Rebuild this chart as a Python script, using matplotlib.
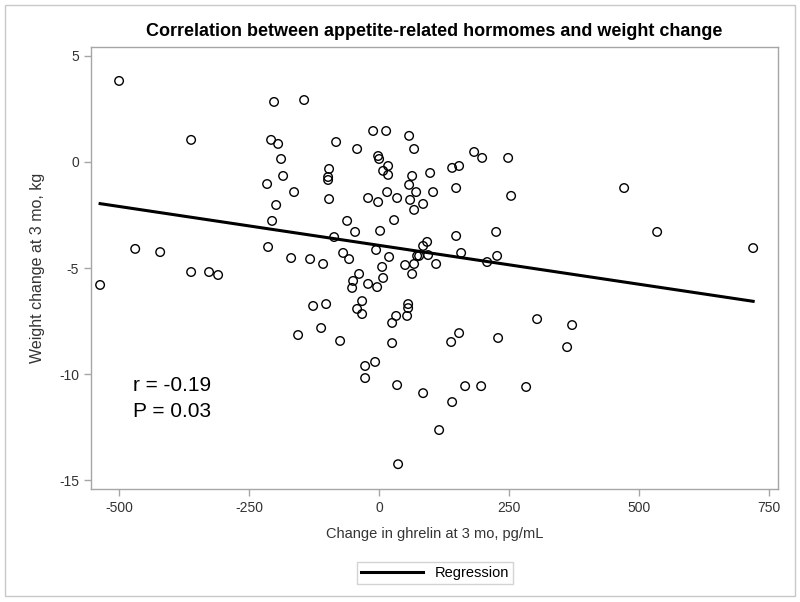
import numpy as np
import matplotlib
matplotlib.use("Agg")
import matplotlib.pyplot as plt
from matplotlib.patches import Rectangle
from matplotlib.lines import Line2D

plt.rcParams['font.family'] = ['Liberation Sans', 'DejaVu Sans']

title = "Correlation between appetite-related hormomes and weight change"
xlabel = "Change in ghrelin at 3 mo, pg/mL"
ylabel = "Weight change at 3 mo, kg"
xticks = [-500, -250, 0, 250, 500, 750]
yticks = [5, 0, -5, -10, -15]

ghrelin = [
    -536.5, -500, -469, -421, -361.5, -361.5, -327, -309.6,
    -202, -207.7, -194.2, -188.5, -184.6, -215.4, -163.5, -198, -205.8, -213.5, -169.2,
    -144.2, -132.7, -155.8, -126.9,
    -96.2, -98.1, -98.1, -96.2, -82.7, -42.3, -11.5, 13.5, 57.7, 67.3,
    -1.9, 0, 17.3, 7.7, 17.3, 63.5, 98.1, -21.2, -1.9, 15.4, 34.6, 57.7,
    71.2, 59.6, 84.6, 67.3, 103.8, -61.5, 28.8, -86.5, -46.2, 1.9,
    -69.2, -57.7, -5.8, 19.2, -107.7, -38.5, -50, -51.9, -21.2, -3.8,
    7.7, 5.8, 50, 67.3, 63.5, 73.1, 76.9, 84.6, 92.3, 94.2, 109.6,
    -101.9, -32.7, -42.3, -32.7, 55.8, 55.8, 32.7, 53.8, 25, -111.5,
    -75, 25, 138.5, 153.8, 228.8,
    -26.9, -7.7, -26.9, 34.6, 84.6, 140.4, 165.4, 196.2, 282.7, 115.4, 36.5,
    140.4, 153.8, 148.1, 182.7, 198.1, 248.1, 253.8, 148.1, 157.7, 207.7, 225, 226.9,
    303.8, 371.1, 361.5, 471.1, 534.6, 719.2,
]
weight = [
    -5.80, 3.82, -4.10, -4.25, 1.04, -5.19, -5.19, -5.33,
    2.83, 1.04, 0.85, 0.14, -0.66, -1.04, -1.42, -2.03, -2.78, -4.01, -4.53,
    2.92, -4.58, -8.16, -6.79,
    -0.33, -0.71, -0.85, -1.75, 0.94, 0.61, 1.46, 1.46, 1.23, 0.61,
    0.28, 0.14, -0.19, -0.42, -0.61, -0.66, -0.52, -1.70, -1.89, -1.42, -1.70, -1.08,
    -1.42, -1.79, -1.98, -2.26, -1.42, -2.78, -2.74, -3.54, -3.30, -3.25,
    -4.29, -4.58, -4.15, -4.48, -4.81, -5.28, -5.61, -5.94, -5.75, -5.90,
    -5.47, -4.95, -4.86, -4.81, -5.28, -4.43, -4.43, -3.96, -3.77, -4.39, -4.81,
    -6.70, -6.56, -6.93, -7.17, -6.70, -6.89, -7.26, -7.26, -7.59, -7.83,
    -8.44, -8.54, -8.49, -8.07, -8.30,
    -9.62, -9.43, -10.19, -10.52, -10.90, -11.32, -10.57, -10.57, -10.61, -12.64, -14.25,
    -0.28, -0.19, -1.23, 0.47, 0.19, 0.19, -1.60, -3.49, -4.29, -4.72, -3.30, -4.43,
    -7.41, -7.69, -8.73, -1.23, -3.30, -4.06,
]
r_text = "r = -0.19"
p_text = "P = 0.03"

x = np.array(ghrelin)
y = np.array(weight)
slope, intercept = np.polyfit(x, y, 1)

fig = plt.figure(figsize=(8.0, 6.02), dpi=100)
ax = fig.add_axes([91/800, 1-489/602, (778-91)/800, (489-47)/602])

ax.scatter(x, y, s=38, facecolors='none', edgecolors='black', linewidths=1.0, zorder=3)
xl = np.array([x.min(), x.max()])
ax.plot(xl, intercept + slope*xl, color='black', lw=2.2, zorder=4)

ax.set_xlim(-554, 767)
ax.set_ylim(-15.42, 5.42)
ax.set_xticks(xticks)
ax.set_yticks(yticks)
ax.set_xticklabels([str(t) for t in xticks])
ax.set_yticklabels([str(t) for t in yticks])
for s in ax.spines.values():
    s.set_color('#a6a6a6')
    s.set_linewidth(1.0)
ax.tick_params(axis='both', colors='#a6a6a6', labelcolor='#333333', labelsize=10, length=5, width=1)

ax.set_xlabel(xlabel, fontsize=10.5, color='#333333', labelpad=9)
ax.set_ylabel(ylabel, fontsize=11.5, color='#333333', labelpad=10)
ax.set_title(title, fontsize=13, fontweight='bold', pad=8)

ax.text(-473, -10.55, r_text, fontsize=15, va='center', ha='left')
ax.text(-473, -11.75, p_text, fontsize=15, va='center', ha='left')

handle = Line2D([0], [0], color='black', lw=2.2)
leg = fig.legend([handle], ["Regression"], loc='center', bbox_to_anchor=(435/800, 1-573/602),
                 frameon=True, fancybox=False, fontsize=10.5, handlelength=4.2,
                 borderpad=0.3, edgecolor='#c8c8c8')
leg.get_frame().set_linewidth(1.0)

fig.patches.append(Rectangle((5/800, 1-596/602), 790/800, 591/602, transform=fig.transFigure,
                             fill=False, edgecolor='#c8c8c8', lw=1.0))

fig.savefig("out.png", dpi=100)
